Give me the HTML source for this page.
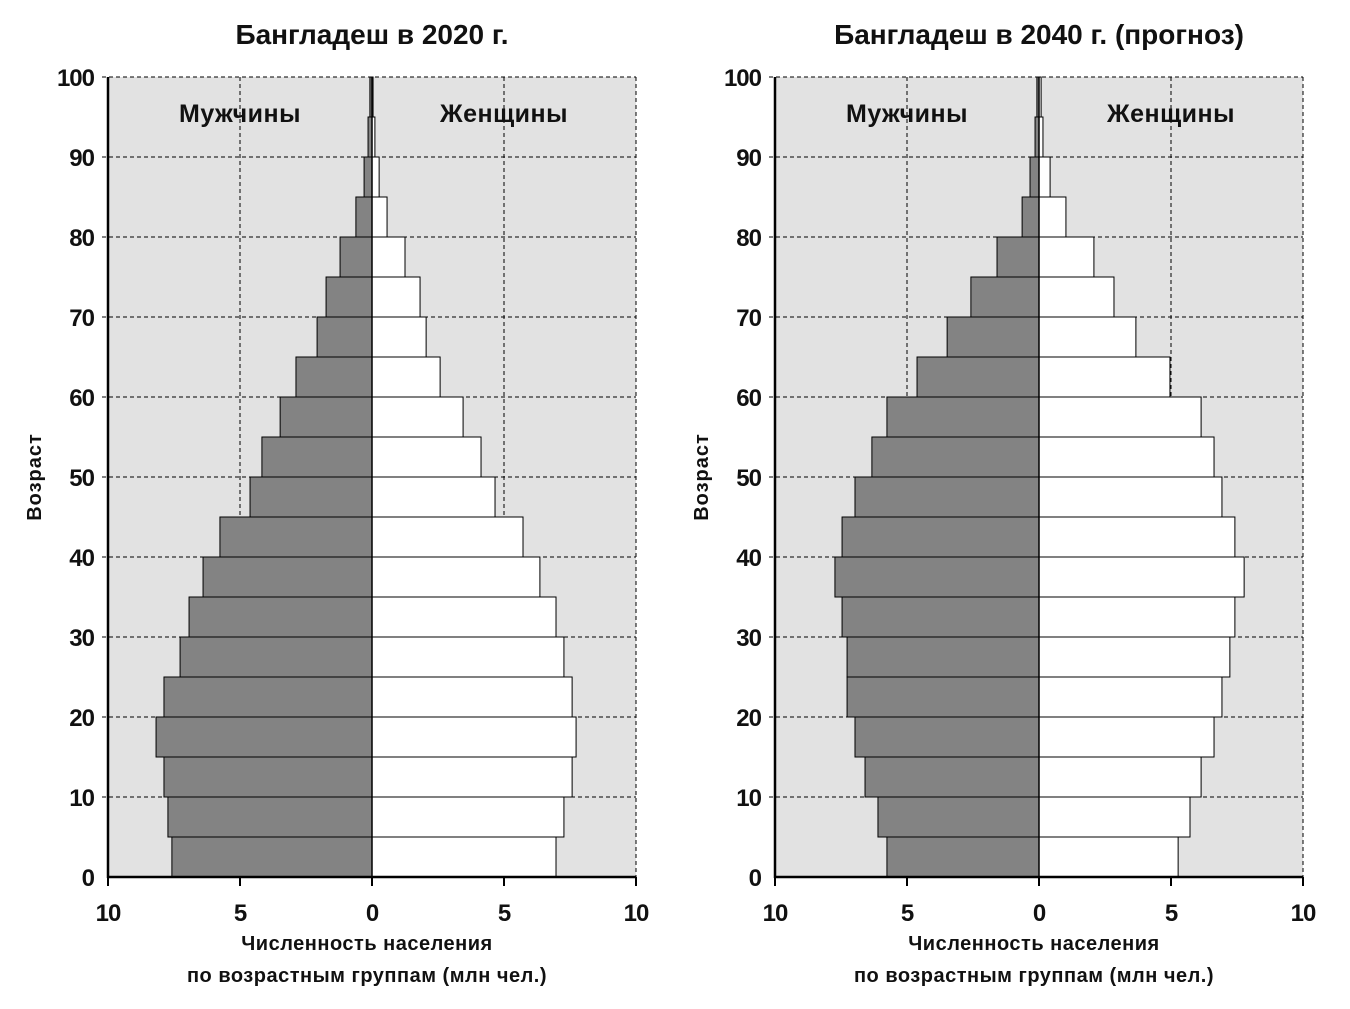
<!DOCTYPE html>
<html><head><meta charset="utf-8"><style>
html,body{margin:0;padding:0;background:#fff;}
svg text{font-family:"Liberation Sans Narrow","Liberation Sans",sans-serif;font-weight:bold;fill:#111;}
</style></head><body>
<svg id="chart" width="1350" height="1004" xmlns="http://www.w3.org/2000/svg"></svg>
<script>
const ageGroups = ["0-4","5-9","10-14","15-19","20-24","25-29","30-34","35-39","40-44","45-49","50-54","55-59","60-64","65-69","70-74","75-79","80-84","85-89","90-94","95-99"];
const male2020 = [7.58,7.73,7.88,8.18,7.88,7.27,6.93,6.4,5.76,4.62,4.17,3.48,2.88,2.08,1.74,1.21,0.61,0.3,0.15,0.08];
const female2020 = [6.97,7.27,7.58,7.73,7.58,7.27,6.97,6.36,5.72,4.66,4.13,3.45,2.58,2.05,1.82,1.25,0.57,0.27,0.11,0.04];
const male2040 = [5.76,6.1,6.59,6.97,7.27,7.27,7.46,7.73,7.46,6.97,6.33,5.76,4.62,3.48,2.58,1.59,0.64,0.34,0.15,0.08];
const female2040 = [5.27,5.72,6.14,6.63,6.93,7.23,7.42,7.77,7.42,6.93,6.63,6.14,4.96,3.67,2.84,2.08,1.02,0.42,0.15,0.08];
const xTicks = [10,5,0,5,10];
const yTicks = [0,10,20,30,40,50,60,70,80,90,100];
const titles = ["Бангладеш в 2020 г.","Бангладеш в 2040 г. (прогноз)"];

const NS="http://www.w3.org/2000/svg";
const svg=document.getElementById('chart');
function mk(tag,attrs,parent,text){const e=document.createElementNS(NS,tag);for(const k in attrs)e.setAttribute(k,attrs[k]);if(text!==undefined)e.textContent=text;(parent||svg).appendChild(e);return e;}

function panel(x0,title,male,female,idx){
  const g=mk('g',{});
  
  
  const W=528,top=77,bot=877,cx=x0+W/2;
  const xs=v=>v*W/20;
  const ys=a=>bot-(a)*(bot-top)/100;
  const bg=mk('rect',{x:x0,y:top,width:W,height:bot-top,fill:'#e2e2e2'},g);
  
  
  yTicks.forEach(t=>{ if(t===0)return;
    const l=mk('line',{x1:x0-6,x2:x0+W,y1:ys(t),y2:ys(t),stroke:'#000','stroke-width':1,'stroke-dasharray':'4,3'},g);
    
    
  });
  [-5,5,10].forEach(v=>{
    const l=mk('line',{x1:cx+xs(v),x2:cx+xs(v),y1:top,y2:bot,stroke:'#000','stroke-width':1,'stroke-dasharray':'4,3'},g);
    
    
  });
  ageGroups.forEach((a,i)=>{
    const y=ys(i*5+5),h=ys(i*5)-ys(i*5+5);
    const m=mk('rect',{x:cx-xs(male[i]),y:y,width:xs(male[i]),height:h,fill:'#838383',stroke:'#000','stroke-width':1},g);
    
    
    const f=mk('rect',{x:cx,y:y,width:xs(female[i]),height:h,fill:'#fff',stroke:'#000','stroke-width':1},g);
    
    
  });
  mk('line',{x1:cx,x2:cx,y1:top,y2:bot,stroke:'#000','stroke-width':1.5},g);
  const ax=mk('line',{x1:x0,x2:x0,y1:top,y2:bot+1,stroke:'#000','stroke-width':2.5},g);
  
  
  const bx=mk('line',{x1:x0-1,x2:x0+W,y1:bot,y2:bot,stroke:'#000','stroke-width':2.5},g);
  
  
  yTicks.forEach(t=>{
    const tx=mk('text',{x:x0-14,y:ys(t)+9,'font-size':24,'text-anchor':'end','letter-spacing':-1},g,String(t));
    
    
  });
  xTicks.forEach((t,i)=>{
    const v=(i-2)*5, px=cx+xs(v);
    mk('line',{x1:px,x2:px,y1:bot,y2:bot+9,stroke:'#000','stroke-width':2},g);
    const tx=mk('text',{x:px,y:921,'font-size':24,'text-anchor':'middle','letter-spacing':-1},g,String(t));
    
    
  });
  const tt=mk('text',{x:cx,y:44,'font-size':28,'text-anchor':'middle'},g,title);
  
  
  const l1=mk('text',{x:cx-xs(5),y:122,'font-size':25,'text-anchor':'middle','letter-spacing':0.5},g,'Мужчины');
  
  
  const l2=mk('text',{x:cx+xs(5),y:122,'font-size':25,'text-anchor':'middle','letter-spacing':0.5},g,'Женщины');
  
  
  const x1=mk('text',{x:cx-5,y:950,'font-size':20,'text-anchor':'middle','letter-spacing':0.5},g,'Численность населения');
  
  
  const x2=mk('text',{x:cx-5,y:982,'font-size':20,'text-anchor':'middle','letter-spacing':0.5},g,'по возрастным группам (млн чел.)');
  
  
  const yt=mk('text',{x:0,y:0,'font-size':20,'text-anchor':'middle','letter-spacing':1,transform:`translate(${x0-67},${(top+bot)/2}) rotate(-90)`},g,'Возраст');
  
  
}
panel(108,titles[0],male2020,female2020,1);
panel(775,titles[1],male2040,female2040,2);
</script>
</body></html>
